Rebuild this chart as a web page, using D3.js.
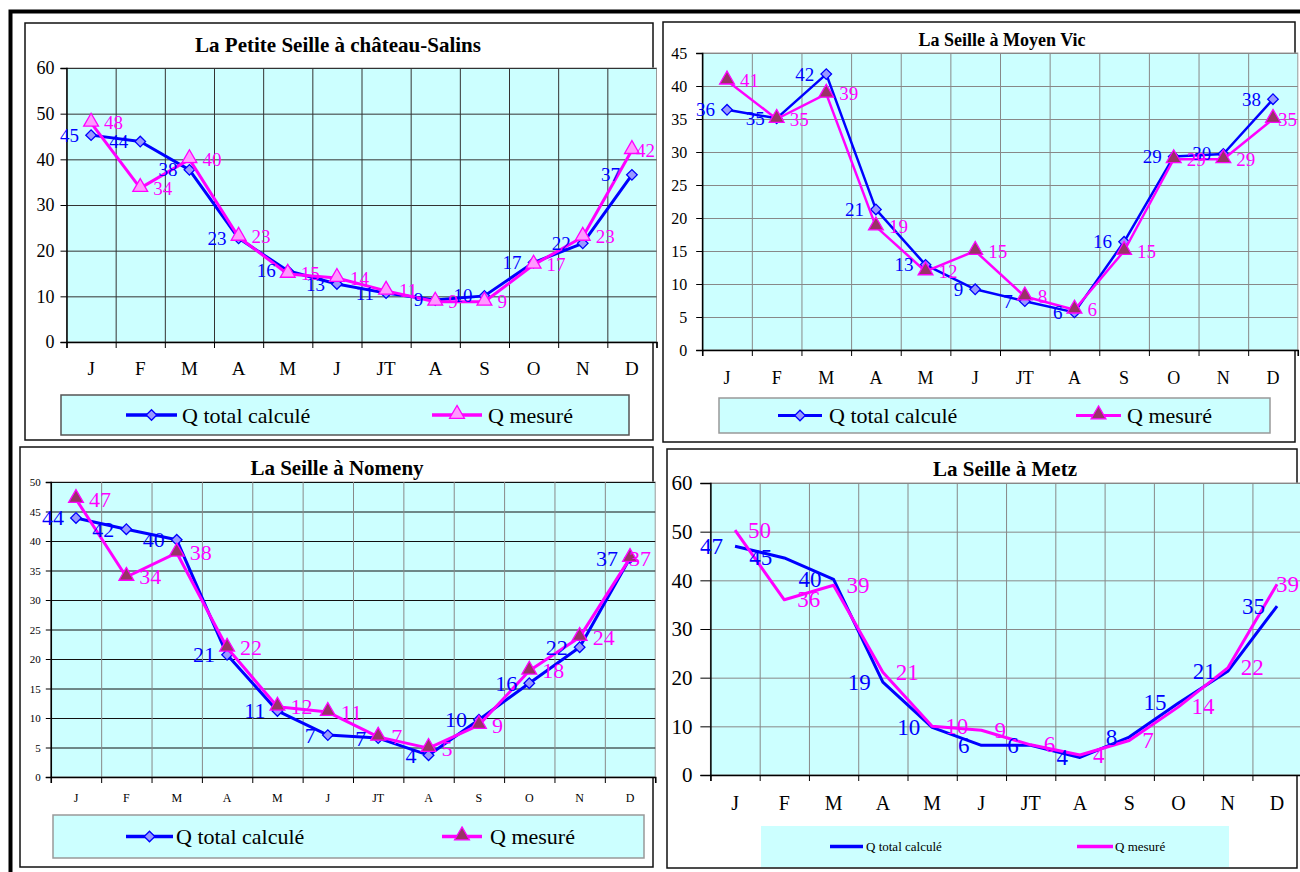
<!DOCTYPE html>
<html>
<head>
<meta charset="utf-8">
<script src="https://cdnjs.cloudflare.com/ajax/libs/d3/7.8.5/d3.min.js"></script>
<style>
  body { margin: 0; background: #fff; }
  svg { display: block; }
</style>
</head>
<body>
<div id="chart"></div>
<script>
const months = ['J', 'F', 'M', 'A', 'M', 'J', 'JT', 'A', 'S', 'O', 'N', 'D'];

// La Petite Seille à château-Salins
const salinsCalc = [45.3, 43.9, 37.7, 22.7, 15.6, 12.7, 10.7, 9.2, 10.1, 17.4, 21.6, 36.6];
const salinsMes = [48, 33.7, 40, 23, 14.9, 14, 11.2, 8.8, 8.8, 16.9, 23, 42];
// La Seille à Moyen Vic
const vicCalc = [36.4, 35.1, 41.8, 21.3, 12.9, 9.2, 7.4, 5.7, 16.4, 29.3, 29.7, 38];
const vicMes = [40.8, 35, 38.8, 18.7, 11.9, 15, 8.1, 6.1, 15, 28.9, 28.9, 35];
// La Seille à Nomeny
const nomenyCalc = [43.9, 42, 40.2, 20.7, 11.2, 7.1, 6.6, 3.7, 9.7, 15.9, 22, 37.1];
const nomenyMes = [47.1, 33.9, 38, 21.9, 11.9, 11, 6.8, 4.9, 8.8, 18, 23.7, 37.1];
// La Seille à Metz
const metzCalc = [47, 44.6, 40.2, 19.1, 9.8, 6.1, 6.1, 3.6, 7.8, 14.8, 21.3, 34.7];
const metzMes = [50.3, 36, 39, 21.1, 10, 9.2, 6.2, 4.1, 7.1, 14, 22, 39.2];

const ticks60 = [0, 10, 20, 30, 40, 50, 60];
const ticks45 = [0, 5, 10, 15, 20, 25, 30, 35, 40, 45];
const ticks50 = [0, 5, 10, 15, 20, 25, 30, 35, 40, 45, 50];

const calcName = 'Q total calculé';
const mesName = 'Q mesuré';

const BLUE = '#0000ff', PINK = '#ff00ff', CYAN = '#ccffff';
const SERIF = "'Liberation Serif', 'Times New Roman', Times, serif";

const panels = [
  {
    title: 'La Petite Seille à château-Salins', calc: salinsCalc, mes: salinsMes,
    frame: [25, 23, 628, 417], plot: {l: 66.5, t: 68, r: 656.5, b: 342},
    yMax: 60, yTicks: ticks60, tickLen: 6, tickPad: 6, edge: 655,
    titleX: 338, titleY: 45, titleSize: 21, tickFont: 18, xFont: 19, xLabelY: 368, labelFont: 19,
    gridH: '#333', gridV: '#333', lineW: 3, markers: true, triFill: '#ff99ff',
    legend: {x: 61, y: 395, w: 568, h: 40, cx1: 126, cx2: 177, tx1: 182, mx1: 432, mx2: 482, tx2: 488, font: 22, border: '#555'}
  },
  {
    title: 'La Seille à Moyen Vic', calc: vicCalc, mes: vicMes,
    frame: [663, 22, 632, 420], plot: {l: 702.2, t: 53, r: 1297.8, b: 350},
    yMax: 45, yTicks: ticks45, tickLen: 6, tickPad: 9, edge: 1297,
    titleX: 1002, titleY: 40, titleSize: 18, tickFont: 16, xFont: 18, xLabelY: 378, labelFont: 19,
    gridH: '#888', gridV: '#888', lineW: 2.5, markers: true, triFill: '#993366',
    legend: {x: 719, y: 398, w: 551, h: 35, cx1: 778, cx2: 822, tx1: 829, mx1: 1076, mx2: 1121, tx2: 1127, font: 22, border: '#999'}
  },
  {
    title: 'La Seille à Nomeny', calc: nomenyCalc, mes: nomenyMes,
    frame: [20, 447, 633, 420], plot: {l: 50.8, t: 482, r: 655.2, b: 777},
    yMax: 50, yTicks: ticks50, tickLen: 5, tickPad: 5, edge: 651,
    titleX: 337, titleY: 468, titleSize: 21, tickFont: 11, xFont: 12, xLabelY: 798, labelFont: 22,
    gridH: '#111', gridV: '#888', lineW: 3, markers: true, triFill: '#993366',
    legend: {x: 53, y: 815, w: 591, h: 43, cx1: 126, cx2: 173, tx1: 176, mx1: 442, mx2: 482, tx2: 490, font: 22, border: '#999'}
  },
  {
    title: 'La Seille à Metz', calc: metzCalc, mes: metzMes,
    frame: [667, 449, 630, 419], plot: {l: 710.4, t: 483, r: 1301.7, b: 775},
    yMax: 60, yTicks: ticks60, tickLen: 10, tickPad: 8, edge: 1299,
    titleX: 1005, titleY: 469, titleSize: 21, tickFont: 21, xFont: 20, xLabelY: 803, labelFont: 23,
    gridH: '#888', gridV: '#888', lineW: 3, markers: false, triFill: null,
    legend: {x: 761, y: 826, w: 468, h: 41, cx1: 830, cx2: 863, tx1: 866, mx1: 1077, mx2: 1113, tx2: 1115, font: 13, border: null}
  }
];

const svg = d3.select('#chart').append('svg')
  .attr('width', 1300)
  .attr('height', 872)
  .style('font-family', SERIF);

svg.append('rect').attr('width', 1300).attr('height', 872).attr('fill', '#fff');

function drawPanel(p) {
  const g = svg.append('g');
  const x = d3.scaleBand().domain(d3.range(12)).range([p.plot.l, p.plot.r]);
  const xb = d3.scaleLinear().domain([0, 12]).range([p.plot.l, p.plot.r]);
  const y = d3.scaleLinear().domain([0, p.yMax]).range([p.plot.b, p.plot.t]);
  const cx = i => x(i) + x.bandwidth() / 2;
  const innerW = p.plot.r - p.plot.l;
  const innerH = p.plot.b - p.plot.t;

  g.append('rect')
    .attr('x', p.frame[0]).attr('y', p.frame[1])
    .attr('width', p.frame[2]).attr('height', p.frame[3])
    .attr('fill', '#fff').attr('stroke', '#111').attr('stroke-width', 1.5);

  g.append('text')
    .attr('x', p.titleX).attr('y', p.titleY)
    .attr('text-anchor', 'middle').attr('dominant-baseline', 'central')
    .attr('font-size', p.titleSize).attr('font-weight', 'bold')
    .text(p.title);

  g.append('rect')
    .attr('x', p.plot.l).attr('y', p.plot.t)
    .attr('width', innerW).attr('height', innerH)
    .attr('fill', CYAN).attr('stroke', '#999');

  // horizontal grid
  g.append('g')
    .attr('transform', `translate(${p.plot.l},0)`)
    .call(d3.axisLeft(y).tickValues(p.yTicks).tickSize(-innerW).tickFormat(''))
    .call(s => s.select('.domain').remove())
    .selectAll('line').attr('stroke', p.gridH);

  // vertical grid
  g.append('g')
    .attr('transform', `translate(0,${p.plot.t})`)
    .call(d3.axisBottom(xb).tickValues(d3.range(1, 12)).tickSize(innerH).tickFormat(''))
    .call(s => s.select('.domain').remove())
    .selectAll('line').attr('stroke', p.gridV);

  // y axis
  const yAxisG = g.append('g')
    .attr('transform', `translate(${p.plot.l},0)`)
    .call(d3.axisLeft(y).tickValues(p.yTicks).tickSize(p.tickLen).tickPadding(p.tickPad));
  yAxisG.attr('font-family', SERIF);
  yAxisG.selectAll('text').attr('font-size', p.tickFont).attr('fill', '#000');
  yAxisG.select('.domain').attr('stroke', '#000').attr('stroke-width', 1.5);
  yAxisG.selectAll('line').attr('stroke', '#000');

  // x axis
  const xAxisG = g.append('g')
    .attr('transform', `translate(0,${p.plot.b})`)
    .call(d3.axisBottom(xb).tickValues(d3.range(13)).tickSize(6).tickFormat(''));
  xAxisG.select('.domain').attr('stroke', '#000').attr('stroke-width', 1.5);
  xAxisG.selectAll('line').attr('stroke', '#000');

  const xLabG = g.append('g')
    .attr('transform', `translate(0,${p.xLabelY})`)
    .call(d3.axisBottom(x).tickSize(0).tickPadding(0).tickFormat(i => months[i]));
  xLabG.attr('font-family', SERIF);
  xLabG.select('.domain').remove();
  xLabG.selectAll('text')
    .attr('y', 0).attr('dy', '0.35em')
    .attr('font-size', p.xFont).attr('fill', '#000');

  const line = d3.line().x((d, i) => cx(i)).y(d => y(d));

  g.append('path').datum(p.calc)
    .attr('d', line).attr('fill', 'none')
    .attr('stroke', BLUE).attr('stroke-width', p.lineW).attr('stroke-linejoin', 'round');

  if (p.markers) {
    g.selectAll('.dia').data(p.calc).enter().append('path')
      .attr('transform', (d, i) => `translate(${cx(i)},${y(d)}) rotate(45)`)
      .attr('d', d3.symbol(d3.symbolSquare, 56))
      .attr('fill', '#9999ff').attr('stroke', BLUE).attr('stroke-width', 1.3);
  }

  g.append('path').datum(p.mes)
    .attr('d', line).attr('fill', 'none')
    .attr('stroke', PINK).attr('stroke-width', p.lineW).attr('stroke-linejoin', 'round');

  if (p.markers) {
    g.selectAll('.tri').data(p.mes).enter().append('path')
      .attr('transform', (d, i) => `translate(${cx(i)},${y(d) - 1})`)
      .attr('d', d3.symbol(d3.symbolTriangle, 95))
      .attr('fill', p.triFill).attr('stroke', PINK).attr('stroke-width', 1.3);
  }

  const fmt = d3.format('.0f');
  g.selectAll('.lc').data(p.calc).enter().append('text')
    .attr('x', (d, i) => cx(i) - 12).attr('y', d => y(d))
    .attr('text-anchor', 'end').attr('dominant-baseline', 'central')
    .attr('font-size', p.labelFont).attr('fill', BLUE)
    .text(d => fmt(d));

  g.selectAll('.lm').data(p.mes).enter().append('text')
    .attr('text-anchor', 'start').attr('dominant-baseline', 'central')
    .attr('font-size', p.labelFont).attr('fill', PINK)
    .attr('y', d => y(d))
    .text(d => fmt(d))
    .attr('x', function (d, i) {
      // keep the last label inside the chart, as the spreadsheet does
      const w = this.getComputedTextLength();
      return Math.min(cx(i) + 13, p.edge - w);
    });

  // legend
  const L = p.legend;
  const ly = L.y + L.h / 2;
  const lg = g.append('g');
  lg.append('rect')
    .attr('x', L.x).attr('y', L.y).attr('width', L.w).attr('height', L.h)
    .attr('fill', CYAN).attr('stroke', L.border || 'none').attr('stroke-width', 1.5);
  lg.append('line').attr('x1', L.cx1).attr('x2', L.cx2).attr('y1', ly).attr('y2', ly)
    .attr('stroke', BLUE).attr('stroke-width', p.lineW + 0.5);
  lg.append('line').attr('x1', L.mx1).attr('x2', L.mx2).attr('y1', ly).attr('y2', ly)
    .attr('stroke', PINK).attr('stroke-width', p.lineW + 0.5);
  if (p.markers) {
    lg.append('path')
      .attr('transform', `translate(${(L.cx1 + L.cx2) / 2},${ly}) rotate(45)`)
      .attr('d', d3.symbol(d3.symbolSquare, 56))
      .attr('fill', '#9999ff').attr('stroke', BLUE).attr('stroke-width', 1.3);
    lg.append('path')
      .attr('transform', `translate(${(L.mx1 + L.mx2) / 2},${ly - 1})`)
      .attr('d', d3.symbol(d3.symbolTriangle, 95))
      .attr('fill', p.triFill).attr('stroke', PINK).attr('stroke-width', 1.3);
  }
  lg.append('text').attr('x', L.tx1).attr('y', ly)
    .attr('dominant-baseline', 'central').attr('font-size', L.font).text(calcName);
  lg.append('text').attr('x', L.tx2).attr('y', ly)
    .attr('dominant-baseline', 'central').attr('font-size', L.font).text(mesName);
}

panels.forEach(drawPanel);

svg.selectAll('text').style('font-family', SERIF);

// outer thick frame (left and top edges)
svg.append('path')
  .attr('d', 'M10.5,872 V11.5 H1300')
  .attr('fill', 'none').attr('stroke', '#000').attr('stroke-width', 4);
</script>
</body>
</html>
